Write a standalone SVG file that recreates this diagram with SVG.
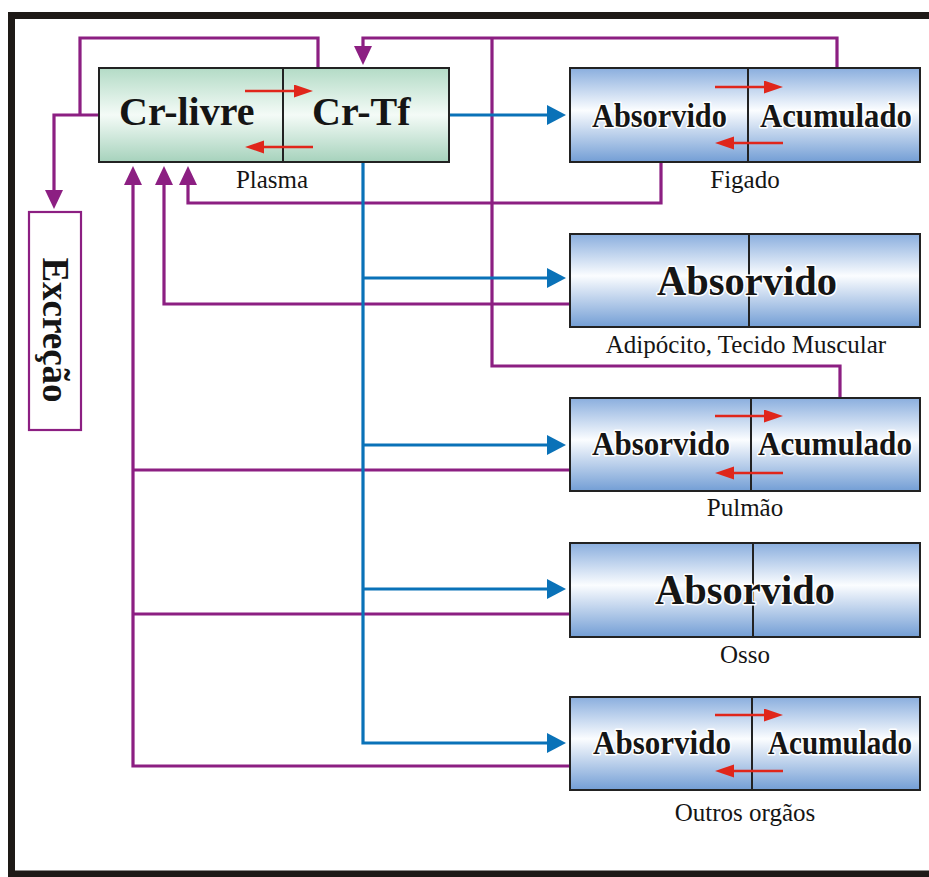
<svg xmlns="http://www.w3.org/2000/svg" width="929" height="877" viewBox="0 0 929 877">
  <defs>
    <linearGradient id="gBlue" x1="0" y1="0" x2="0" y2="1">
      <stop offset="0" stop-color="#8aaede"/>
      <stop offset="0.45" stop-color="#fbfdff"/>
      <stop offset="0.55" stop-color="#e2ebf7"/>
      <stop offset="1" stop-color="#739ed5"/>
    </linearGradient>
    <linearGradient id="gGreen" x1="0" y1="0" x2="0" y2="1">
      <stop offset="0" stop-color="#b3dbc6"/>
      <stop offset="0.5" stop-color="#f4fbf7"/>
      <stop offset="1" stop-color="#a6d2bc"/>
    </linearGradient>
    <marker id="mPurple" markerUnits="userSpaceOnUse" markerWidth="20" markerHeight="20" refX="0" refY="9" orient="auto">
      <path d="M0,0 L19,9 L0,18 z" fill="#8c1f82"/>
    </marker>
    <marker id="mBlue" markerUnits="userSpaceOnUse" markerWidth="20" markerHeight="22" refX="0" refY="10" orient="auto">
      <path d="M0,0 L19,10 L0,20 z" fill="#0a72b8"/>
    </marker>
    <marker id="mRed" markerUnits="userSpaceOnUse" markerWidth="20" markerHeight="14" refX="0" refY="6.5" orient="auto">
      <path d="M0,0 L19,6.5 L0,13 z" fill="#e0261b"/>
    </marker>
  </defs>
  <style>
    .frame { fill: none; stroke: #1e1a17; stroke-width: 7; }
    .box { stroke: #222; stroke-width: 2; }
    .div { stroke: #222; stroke-width: 2; }
    .pur { fill: none; stroke: #8c1f82; stroke-width: 3.2; }
    .blu { fill: none; stroke: #0a72b8; stroke-width: 3.2; }
    .red { fill: none; stroke: #e0261b; stroke-width: 2.6; }
    .lbl { font-family: "Liberation Serif", "Times New Roman", serif; font-size: 25px; fill: #151515; text-anchor: middle; }
    .big { font-family: "Liberation Serif", "Times New Roman", serif; font-weight: bold; font-size: 40px; fill: #151515; }
    .bt { font-family: "Liberation Serif", "Times New Roman", serif; font-weight: bold; fill: #151515; stroke: #ffffff; stroke-width: 3; paint-order: stroke; stroke-linejoin: round; }
    .s34 { font-size: 34px; }
    .s42 { font-size: 42px; }
  </style>

  <rect width="929" height="877" fill="#ffffff"/>
  <path class="frame" d="M929,15.5 H11.5 V874 H929"/>

  <!-- connectors -->
  <g id="connectors">
    <!-- excretion -->
    <path class="pur" d="M99,115 H54 V190" marker-end="url(#mPurple)"/>
    <path class="pur" d="M80,115 V38 H318 V68"/>
    <!-- accumulated pools back to Cr-Tf -->
    <path class="pur" d="M837,68 V38 H363 V46" marker-end="url(#mPurple)"/>
    <path class="pur" d="M840,398 V366 H492 V38"/>
    <!-- absorbed pools back to Cr-livre -->
    <path class="pur" d="M661,163 V203 H188 V185" marker-end="url(#mPurple)"/>
    <path class="pur" d="M570,304 H164 V185" marker-end="url(#mPurple)"/>
    <path class="pur" d="M570,766 H133 V185" marker-end="url(#mPurple)"/>
    <path class="pur" d="M570,470 H133"/>
    <path class="pur" d="M570,614 H133"/>
    <!-- Cr-Tf delivery to tissues -->
    <path class="blu" d="M449,115 H547" marker-end="url(#mBlue)"/>
    <path class="blu" d="M363,162 V743 H547" marker-end="url(#mBlue)"/>
    <path class="blu" d="M363,278 H547" marker-end="url(#mBlue)"/>
    <path class="blu" d="M363,445 H547" marker-end="url(#mBlue)"/>
    <path class="blu" d="M363,589 H547" marker-end="url(#mBlue)"/>
  </g>

  <!-- Plasma -->
  <g id="plasma">
    <rect class="box" x="99" y="68" width="350" height="94" fill="url(#gGreen)"/>
    <line class="div" x1="283" y1="68" x2="283" y2="162"/>
    <text class="big" x="119" y="125">Cr-livre</text>
    <text class="big" x="312" y="125">Cr-Tf</text>
    <path class="red" d="M245,91 H294" marker-end="url(#mRed)"/>
    <path class="red" d="M313,147 H264" marker-end="url(#mRed)"/>
    <text class="lbl" x="272" y="188">Plasma</text>
  </g>

  <!-- Excretion -->
  <g id="excrecao">
    <rect x="29" y="212" width="52" height="218" fill="#ffffff" stroke="#8c1f82" stroke-width="2.2"/>
    <text class="big" text-anchor="middle" transform="translate(43,330) rotate(90)" style="font-size:37px">Excreção</text>
  </g>

  <!-- Liver -->
  <g id="figado">
    <rect class="box" x="570" y="68" width="350" height="94" fill="url(#gBlue)"/>
    <line class="div" x1="748" y1="68" x2="748" y2="162"/>
    <text class="bt s34" transform="translate(592,127) scale(0.893,1)">Absorvido</text>
    <text class="bt s34" transform="translate(760,127) scale(0.904,1)">Acumulado</text>
    <path class="red" d="M715,87 H764" marker-end="url(#mRed)"/>
    <path class="red" d="M783,143 H734" marker-end="url(#mRed)"/>
    <text class="lbl" x="745" y="188">Figado</text>
  </g>

  <!-- Adipocyte / muscle -->
  <g id="adipocito">
    <rect class="box" x="570" y="234" width="350" height="93" fill="url(#gBlue)"/>
    <line class="div" x1="749" y1="234" x2="749" y2="327"/>
    <text class="bt s42" transform="translate(657,295) scale(0.964,1)">Absorvido</text>
    <text class="lbl" x="746" y="353">Adipócito, Tecido Muscular</text>
  </g>

  <!-- Lung -->
  <g id="pulmao">
    <rect class="box" x="570" y="398" width="350" height="93" fill="url(#gBlue)"/>
    <line class="div" x1="751" y1="398" x2="751" y2="491"/>
    <text class="bt s34" transform="translate(592,455) scale(0.913,1)">Absorvido</text>
    <text class="bt s34" transform="translate(758,455) scale(0.916,1)">Acumulado</text>
    <path class="red" d="M715,416 H764" marker-end="url(#mRed)"/>
    <path class="red" d="M783,473 H734" marker-end="url(#mRed)"/>
    <text class="lbl" x="745" y="516">Pulmão</text>
  </g>

  <!-- Bone -->
  <g id="osso">
    <rect class="box" x="570" y="543" width="350" height="94" fill="url(#gBlue)"/>
    <line class="div" x1="753" y1="543" x2="753" y2="637"/>
    <text class="bt s42" transform="translate(655,604) scale(0.964,1)">Absorvido</text>
    <text class="lbl" x="745" y="663">Osso</text>
  </g>

  <!-- Other organs -->
  <g id="outros">
    <rect class="box" x="570" y="697" width="350" height="93" fill="url(#gBlue)"/>
    <line class="div" x1="752" y1="697" x2="752" y2="790"/>
    <text class="bt s34" transform="translate(593,754) scale(0.913,1)">Absorvido</text>
    <text class="bt s34" transform="translate(768,754) scale(0.857,1)">Acumulado</text>
    <path class="red" d="M715,715 H764" marker-end="url(#mRed)"/>
    <path class="red" d="M783,771 H734" marker-end="url(#mRed)"/>
    <text class="lbl" x="745" y="821">Outros orgãos</text>
  </g>
</svg>
